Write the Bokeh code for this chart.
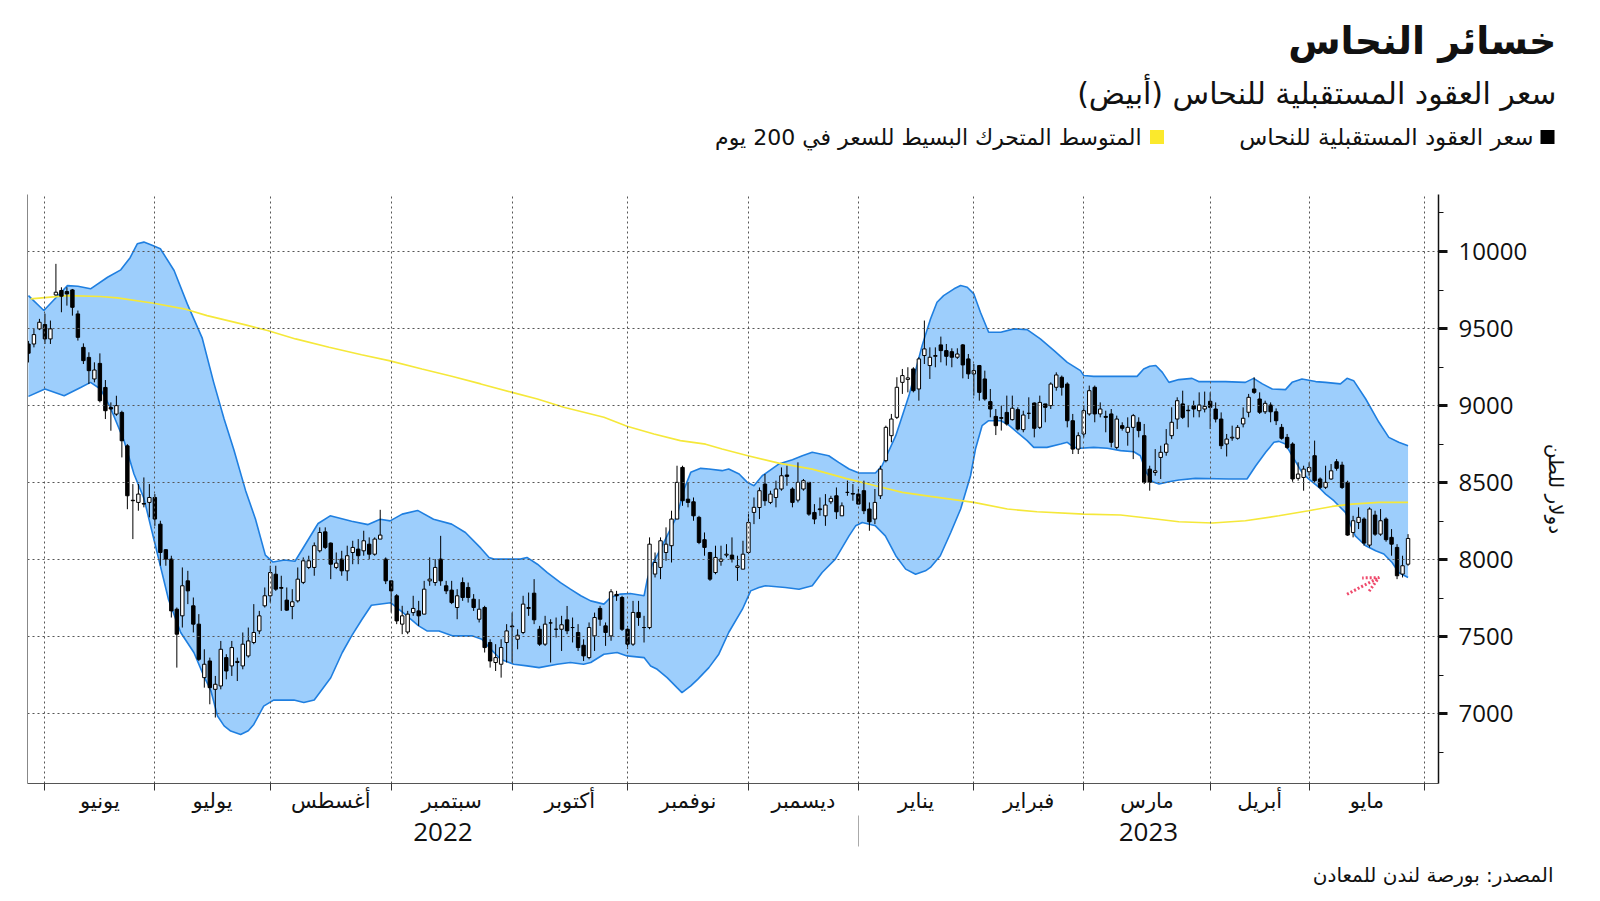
from bokeh.plotting import figure
from bokeh.models import (Range1d, LinearAxis, FixedTicker, Arrow, OpenHead,
                          ColumnDataSource)
from bokeh.layouts import column
from bokeh.embed import file_html
from bokeh.resources import INLINE
from bokeh.core.properties import value

# ---------------- data ----------------
opens = [9400, 9400, 9498, 9526, 9433, 9718, 9747, 9740, 9751, 9595,
         9378, 9313, 9173, 9274, 9118, 8988, 8945, 8956, 8739, 8386,
         8372, 8365, 8372, 8404, 8231, 8065, 8004, 7679, 7636, 7863,
         7701, 7582, 7235, 7343, 7159, 7181, 7365, 7311, 7333, 7311,
         7376, 7463, 7538, 7701, 7766, 7906, 7820, 7738, 7697, 7733,
         7853, 7950, 7950, 8058, 8181, 8108, 7950, 8004, 7928, 8047,
         8069, 8058, 8101, 8036, 8134, 8004, 7863, 7766, 7582, 7531,
         7657, 7668, 7647, 7863, 7852, 8004, 7831, 7803, 7690, 7852,
         7820, 7744, 7614, 7690, 7463, 7333, 7322, 7463, 7570, 7484,
         7528, 7684, 7783, 7549, 7452, 7590, 7549, 7549, 7610, 7560,
         7528, 7445, 7365, 7506, 7684, 7571, 7506, 7775, 7755, 7549,
         7452, 7658, 7560, 7560, 7907, 7950, 8047, 8091, 8264, 8599,
         8393, 8376, 8275, 8130, 8047, 7917, 7990, 8030, 8030, 7950,
         7939, 8047, 8307, 8339, 8491, 8372, 8404, 8459, 8550, 8459,
         8387, 8459, 8502, 8307, 8330, 8285, 8376, 8415, 8285, 8437,
         8430, 8426, 8448, 8329, 8264, 8415, 8643, 8805, 8924, 9151,
         9170, 9238, 9108, 9325, 9260, 9320, 9394, 9357, 9350, 9314,
         9394, 9303, 9206, 9260, 9173, 9026, 8930, 8922, 8956, 8909,
         8974, 8844, 8950, 9017, 8859, 9011, 9000, 9119, 9184, 9140,
         8902, 8718, 8816, 8946, 9119, 8946, 8930, 8946, 8729, 8870,
         8827, 8859, 8892, 8805, 8588, 8566, 8664, 8697, 8805, 8913,
         9011, 8970, 9000, 8967, 8978, 9028, 8978, 8913, 8751, 8790,
         8788, 8881, 8957, 9108, 9043, 8960, 9004, 8960, 8859, 8794,
         8751, 8528, 8534, 8571, 8675, 8524, 8470, 8524, 8636, 8614,
         8502, 8177, 8242, 8264, 8095, 8290, 8166, 8264, 8145, 8080,
         7907, 7971]
highs = [9420, 9498, 9563, 9597, 9552, 9920, 9768, 9768, 9757, 9617,
         9404, 9346, 9281, 9339, 9166, 9021, 9064, 8967, 8750, 8491,
         8491, 8534, 8491, 8426, 8253, 8069, 8026, 7690, 7950, 7928,
         7755, 7647, 7419, 7365, 7246, 7473, 7387, 7473, 7365, 7528,
         7560, 7712, 7668, 7820, 7961, 7961, 7896, 7820, 7809, 7950,
         8015, 8026, 8112, 8210, 8210, 8112, 8047, 8058, 8091, 8123,
         8134, 8188, 8145, 8145, 8324, 8015, 7863, 7777, 7701, 7668,
         7766, 7733, 7863, 8015, 8004, 8155, 7863, 7863, 7809, 7885,
         7852, 7777, 7744, 7701, 7484, 7452, 7484, 7582, 7657, 7549,
         7766, 7787, 7874, 7571, 7636, 7614, 7625, 7636, 7700, 7625,
         7582, 7484, 7593, 7657, 7701, 7593, 7809, 7798, 7766, 7571,
         7733, 7733, 7636, 8145, 8047, 8145, 8210, 8318, 8610, 8610,
         8502, 8404, 8285, 8177, 8051, 8091, 8091, 8101, 8145, 8026,
         8123, 8296, 8404, 8469, 8556, 8448, 8513, 8599, 8610, 8470,
         8632, 8524, 8502, 8361, 8404, 8426, 8415, 8469, 8372, 8513,
         8491, 8459, 8513, 8372, 8459, 8610, 8870, 8946, 9184, 9238,
         9249, 9249, 9314, 9552, 9378, 9378, 9448, 9400, 9372, 9372,
         9400, 9335, 9270, 9264, 9227, 9108, 8978, 9000, 9065, 9065,
         8989, 8967, 9054, 9021, 9065, 9011, 9151, 9216, 9195, 9151,
         8946, 8827, 9000, 9130, 9130, 9021, 8967, 8978, 8935, 8892,
         8924, 8946, 8924, 8881, 8610, 8718, 8740, 8848, 8989, 9054,
         9097, 9000, 9032, 9086, 9091, 9086, 9021, 8956, 8816, 8870,
         8874, 8989, 9076, 9184, 9086, 9032, 9021, 8982, 8881, 8816,
         8762, 8632, 8610, 8632, 8773, 8534, 8610, 8621, 8653, 8636,
         8513, 8285, 8340, 8275, 8340, 8318, 8329, 8275, 8199, 8101,
         8026, 8166]
lows = [9280, 9378, 9490, 9400, 9400, 9714, 9606, 9649, 9584, 9422,
        9270, 9140, 9151, 9021, 8913, 8837, 8934, 8664, 8328, 8134,
        8318, 8340, 8275, 8220, 7961, 7961, 7625, 7300, 7560, 7712,
        7528, 7343, 7170, 7062, 6976, 7159, 7224, 7246, 7213, 7289,
        7365, 7452, 7517, 7690, 7722, 7798, 7668, 7668, 7614, 7722,
        7842, 7939, 7896, 8047, 8069, 7874, 7939, 7896, 7863, 7971,
        7971, 8026, 8004, 8026, 8134, 7842, 7657, 7582, 7517, 7517,
        7636, 7571, 7647, 7831, 7831, 7831, 7777, 7712, 7614, 7733,
        7722, 7668, 7593, 7398, 7300, 7278, 7235, 7333, 7333, 7419,
        7517, 7636, 7582, 7441, 7441, 7333, 7495, 7408, 7517, 7463,
        7408, 7343, 7354, 7408, 7571, 7441, 7474, 7733, 7538, 7420,
        7441, 7571, 7463, 7549, 7885, 7874, 7993, 7982, 8264, 8350,
        8340, 8253, 8101, 8026, 7863, 7906, 7961, 8015, 7982, 7863,
        7939, 8036, 8231, 8264, 8350, 8361, 8340, 8448, 8480, 8340,
        8372, 8448, 8285, 8231, 8285, 8220, 8361, 8264, 8285, 8415,
        8383, 8361, 8296, 8188, 8231, 8394, 8632, 8762, 8913, 9076,
        9086, 9086, 9032, 9270, 9173, 9249, 9281, 9260, 9249, 9303,
        9177, 9173, 9065, 9032, 9032, 8924, 8809, 8838, 8870, 8903,
        8838, 8827, 8913, 8794, 8848, 8892, 8978, 9097, 9065, 8859,
        8686, 8686, 8794, 8935, 8892, 8924, 8827, 8729, 8718, 8838,
        8740, 8653, 8794, 8491, 8448, 8545, 8524, 8675, 8783, 8848,
        8913, 8859, 8924, 8924, 8956, 8848, 8891, 8718, 8670, 8772,
        8779, 8859, 8924, 9076, 8946, 8946, 8892, 8874, 8779, 8718,
        8506, 8513, 8448, 8545, 8502, 8459, 8459, 8519, 8578, 8459,
        8155, 8145, 8199, 8091, 8080, 8155, 8155, 8117, 8026, 7874,
        7885, 7961]
closes = [9340, 9461, 9541, 9433, 9498, 9736, 9710, 9725, 9638, 9443,
          9292, 9227, 9231, 9032, 8967, 8978, 9000, 8772, 8415, 8383,
          8426, 8361, 8404, 8264, 8047, 8004, 7668, 7517, 7831, 7798,
          7582, 7354, 7322, 7170, 7192, 7419, 7278, 7430, 7340, 7452,
          7473, 7528, 7636, 7766, 7917, 7809, 7815, 7673, 7727, 7874,
          7993, 7993, 8091, 8177, 8080, 7971, 7978, 7928, 8026, 8080,
          8026, 8123, 8036, 8134, 8160, 7863, 7798, 7603, 7636, 7647,
          7684, 7636, 7809, 7874, 7950, 7863, 7798, 7722, 7766, 7755,
          7755, 7690, 7679, 7430, 7343, 7365, 7430, 7538, 7565, 7510,
          7712, 7690, 7610, 7452, 7582, 7590, 7549, 7578, 7539, 7560,
          7430, 7376, 7560, 7625, 7614, 7528, 7792, 7766, 7549, 7452,
          7658, 7625, 7560, 8101, 7982, 8123, 8101, 8264, 8502, 8383,
          8372, 8285, 8112, 8080, 7874, 8015, 8004, 8036, 8004, 7960,
          8036, 8242, 8340, 8448, 8383, 8426, 8459, 8545, 8541, 8372,
          8502, 8513, 8296, 8264, 8325, 8355, 8398, 8311, 8350, 8437,
          8426, 8361, 8318, 8246, 8372, 8588, 8859, 8913, 9119, 9195,
          9180, 9097, 9303, 9368, 9314, 9325, 9357, 9320, 9314, 9335,
          9264, 9206, 9227, 9086, 9043, 8978, 8870, 8918, 8881, 8983,
          8848, 8939, 8950, 8853, 9021, 8989, 9140, 9199, 9119, 8902,
          8718, 8805, 8967, 9097, 8946, 8978, 8924, 8762, 8913, 8853,
          8859, 8935, 8838, 8502, 8502, 8577, 8697, 8751, 8892, 9032,
          8924, 8967, 8978, 9004, 8995, 8989, 8913, 8740, 8783, 8795,
          8859, 8918, 9054, 9086, 8957, 9015, 8960, 8902, 8788, 8729,
          8524, 8556, 8588, 8599, 8513, 8470, 8502, 8577, 8593, 8469,
          8160, 8253, 8275, 8108, 8329, 8166, 8253, 8130, 8101, 7896,
          7961, 8138]

# Bollinger band edges (bar index, value)
upper_x = [0, 2.8, 5, 7.1, 9, 11.3, 14.4, 16.8, 18.5, 19.8, 21, 22.5, 24, 26.5, 28.9,
           31.6, 33.7, 35.6, 37.4, 39.5, 41.3, 43.1, 44.5, 46.6, 48.5, 52.7, 54.9, 58.8,
           61.8, 64, 65.8, 68, 70.8, 73.7, 77, 79.5, 82.3, 83.8, 84.7, 89.5, 90.7, 92.6,
           94.4, 96.8, 98.6, 100.5, 102.3, 104.7, 105.9, 107.7, 109.5, 112, 112.6, 113.5,
           115, 116.8, 118, 119.3, 120.5, 122.3, 123.8, 126.2, 127.4, 129.3, 130.8, 132,
           133.5, 136.5, 139, 140.8, 142.6, 145.6, 147.4, 149.3, 151.1, 154.1, 155.3,
           157.8, 160.2, 162.6, 164.1, 165.3, 166.5, 168.4, 169.6, 170.8, 172, 173.2,
           174.7, 176.9, 179.3, 181.7, 184.1, 186.6, 189, 191.4, 192, 193.8, 201.7,
           202.9, 204, 205.1, 206.3, 207.5, 209.3, 211.7, 212.9, 217.8, 221.4, 222.9,
           224.5, 226.3, 228.7, 229.9, 231.7, 234.2, 236, 238.7, 239.9, 241.1, 243.3,
           245.7, 247.5, 249.3, 251]
upper_v = [9714, 9617, 9700, 9779, 9775, 9758, 9833, 9881, 9960, 10050, 10061, 10040,
           10018, 9877, 9660, 9440, 9151, 8913, 8710, 8450, 8264, 8030, 7985, 7998, 7990,
           8235, 8285, 8250, 8228, 8263, 8252, 8296, 8320, 8263, 8231, 8177, 8075, 8015,
           8004, 8004, 8015, 7971, 7917, 7852, 7809, 7766, 7733, 7712, 7755, 7777, 7781,
           7766, 7874, 7971, 8069, 8199, 8285, 8459, 8567, 8593, 8589, 8578, 8589, 8556,
           8502, 8480, 8545, 8621, 8649, 8675, 8697, 8675, 8632, 8589, 8563, 8563, 8610,
           8805, 9065, 9390, 9560, 9671, 9714, 9758, 9779, 9768, 9725, 9606, 9476, 9476,
           9498, 9493, 9433, 9357, 9281, 9227, 9195, 9190, 9190, 9238, 9255, 9260, 9216,
           9151, 9169, 9177, 9156, 9156, 9151, 9177, 9141, 9108, 9104, 9151, 9173, 9156,
           9151, 9141, 9177, 9162, 9043, 8892, 8794, 8762, 8740]
lower_x = [0, 3, 6.5, 9.5, 11.3, 13.1, 14.9, 17.4, 19.2, 21, 22.5, 24, 25.5, 27.7, 30.1,
           31.9, 33.2, 34.4, 35.6, 36.8, 38.6, 40, 41, 42.8, 44.6, 48.3, 50.1, 52, 55,
           57.1, 58.8, 60.7, 62.4, 65.9, 68.7, 71, 72.5, 74.7, 77.1, 80.7, 82.5, 84.1,
           85.9, 88.3, 90.7, 92.9, 96.2, 98.6, 101, 102.3, 104.7, 107.1, 108.9, 112,
           113.2, 114.4, 116.2, 118, 118.9, 120.5, 121.8, 123.8, 125.6, 127.4, 129.9,
           131.4, 132.9, 134.1, 137.7, 140.2, 142.6, 144.4, 146.8, 149.3, 150.5, 151.7,
           154.1, 155.9, 157.8, 159.6, 161.4, 163.2, 164.1, 165.9, 167.8, 169.6, 171.4,
           172.3, 173.5, 174.7, 176.9, 178.1, 179.9, 181.7, 182.9, 185.3, 187.8, 189,
           190.2, 191.4, 193.8, 196.3, 198.7, 201.1, 202.3, 203.4, 204.5, 205.7, 207.5,
           209.3, 212.3, 218.4, 221.7, 223.3, 225.1, 226.6, 227.5, 228.7, 229.9, 231.7,
           232.9, 234.8, 236, 237.5, 239.6, 241.4, 243.3, 245.1, 246.6, 248.1, 249.3, 251]
lower_v = [9060, 9108, 9064, 9118, 9151, 9108, 8988, 8772, 8556, 8400, 8180, 7960, 7740,
           7528, 7398, 7246, 7150, 6986, 6922, 6888, 6866, 6890, 6931, 7050, 7089, 7090,
           7073, 7090, 7234, 7398, 7506, 7614, 7705, 7721, 7640, 7571, 7538, 7538, 7506,
           7506, 7484, 7420, 7354, 7322, 7311, 7300, 7322, 7333, 7322, 7333, 7387, 7398,
           7376, 7365, 7311, 7289, 7235, 7170, 7138, 7181, 7225, 7300, 7387, 7528, 7679,
           7798, 7820, 7831, 7820, 7809, 7831, 7917, 8004, 8155, 8220, 8242, 8220, 8155,
           8026, 7939, 7906, 7928, 7950, 8026, 8177, 8329, 8545, 8718, 8870, 8902, 8902,
           8881, 8827, 8773, 8729, 8729, 8751, 8762, 8729, 8723, 8729, 8723, 8708, 8701,
           8675, 8565, 8506, 8491, 8506, 8517, 8528, 8524, 8524, 8610, 8697, 8762, 8768,
           8751, 8675, 8567, 8524, 8469, 8426, 8383, 8307, 8155, 8091, 8058, 8037, 7982,
           7917, 7885]

# 200-day simple moving average (bar index, value)
sma_x = [0.4, 7.1, 13.1, 16.2, 22.8, 28.3, 32.5, 39.5, 43.5, 48.6, 54.7, 60.6, 65.6,
         71.6, 77, 82.3, 88, 92.6, 97.4, 104.7, 108.9, 113.8, 118.6, 123.2, 126.2, 130.9,
         136.5, 142.6, 148.7, 154.1, 159, 164.1, 172, 178.1, 183.5, 192, 198.7, 205.1,
         209.3, 215.4, 221.4, 227.5, 232.9, 237.2, 240.8, 245.7, 251]
sma_v = [9693, 9714, 9708, 9699, 9664, 9628, 9584, 9524, 9487, 9433, 9379, 9330, 9292,
         9238, 9190, 9141, 9086, 9043, 8989, 8924, 8866, 8816, 8773, 8750, 8718, 8675,
         8627, 8588, 8528, 8480, 8437, 8411, 8372, 8329, 8311, 8296, 8290, 8264, 8246,
         8238, 8253, 8285, 8318, 8346, 8361, 8372, 8372]

# axes
month_labels = ["يونيو", "يوليو", "أغسطس", "سبتمبر", "أكتوبر", "نوفمبر",
                "ديسمبر", "يناير", "فبراير", "مارس", "أبريل", "مايو"]
month_starts = [3, 23, 44, 66, 88, 109, 131, 151, 172, 192, 215, 233, 254]
year_labels = ["2022", "2023"]
year_break = 151
y_major = [7000, 7500, 8000, 8500, 9000, 9500, 10000]
y_minor = [6750, 7250, 7750, 8250, 8750, 9250, 9750, 10250]

# annotation arrow (bar index / price)
arrow_from = (239.9, 7776)
arrow_to = (245.7, 7884)

title_text = "خسائر النحاس"
subtitle_text = "سعر العقود المستقبلية للنحاس (أبيض)\u200f"
legend_1 = "سعر العقود المستقبلية للنحاس"
legend_2 = "المتوسط المتحرك البسيط للسعر في 200 يوم"
y_label = "دولار للطن"
source_text = "المصدر: بورصة لندن للمعادن"

# ---------------- styling ----------------
AR = "DejaVu Sans"
NUM = "Open Sans"
W = 1600
HEAD_H = 168
MAIN_H = 690
FOOT_H = 42
X0, X1 = -0.17, 256.54
Y0, Y1 = 6548, 10370
BAND_FILL = "#9dcefc"
BAND_LINE = "#1f7fe0"
SMA_COL = "#f5e83a"
GRID_COL = "#555555"
INK = "#111111"


def text_panel(height):
    f = figure(width=W, height=height, x_range=Range1d(0, W), y_range=Range1d(height, 0),
               x_axis_type=None, y_axis_type=None, output_backend="svg",
               toolbar_location=None, min_border=0)
    f.frame_align = False
    f.outline_line_color = None
    f.grid.visible = False
    return f


# ---------------- header ----------------
head = text_panel(HEAD_H)
head.text(x=[1556], y=[40], text=[title_text], text_align="right", text_baseline="middle",
          text_font=value(AR), text_font_size="38px", text_font_style="bold", text_color=INK)
head.text(x=[1556], y=[93], text=[subtitle_text], text_align="right", text_baseline="middle",
          text_font=value(AR), text_font_size="30px", text_color=INK)
head.scatter(x=[1547], y=[136.5], marker="square", size=14, fill_color="#000000", line_color=None)
head.text(x=[1533], y=[136.5], text=[legend_1], text_align="right", text_baseline="middle",
          text_font=value(AR), text_font_size="23px", text_color=INK)
head.scatter(x=[1156.5], y=[136.5], marker="square", size=14, fill_color="#fbe92c", line_color=None)
head.text(x=[1141], y=[136.5], text=[legend_2], text_align="right", text_baseline="middle",
          text_font=value(AR), text_font_size="22px", text_color=INK)

# ---------------- main chart ----------------
p = figure(width=W, height=MAIN_H, x_range=Range1d(X0, X1), y_range=Range1d(Y0, Y1),
           y_axis_location="right", output_backend="svg", toolbar_location=None,
           min_border_left=27, min_border_right=162, min_border_top=26, min_border_bottom=75)
p.frame_align = False
p.outline_line_color = None
p.background_fill_color = "white"

# band
band_x = upper_x + lower_x[::-1]
band_v = upper_v + lower_v[::-1]
p.patch(band_x, band_v, fill_color=BAND_FILL, line_color=None, level="underlay")
p.line(upper_x, upper_v, line_color=BAND_LINE, line_width=1.6)
p.line(lower_x, lower_v, line_color=BAND_LINE, line_width=1.6)

# SMA
p.line(sma_x, sma_v, line_color=SMA_COL, line_width=1.6)

# candles
idx = list(range(len(closes)))
src = ColumnDataSource(dict(
    x=idx, o=opens, h=highs, l=lows, c=closes,
    top=[max(a, b) for a, b in zip(opens, closes)],
    bottom=[min(a, b) for a, b in zip(opens, closes)],
    fill=["#ffffff" if c > o else "#000000" for o, c in zip(opens, closes)],
))
p.segment(x0="x", y0="l", x1="x", y1="h", source=src, line_color="#000000", line_width=1)
p.vbar(x="x", top="top", bottom="bottom", width=0.62, source=src,
       fill_color="fill", line_color="#000000", line_width=1)

# arrow annotation
red = "#ef4a6c"
p.add_layout(Arrow(end=OpenHead(size=15, line_color=red, line_width=3, line_dash="2 2"),
                   x_start=arrow_from[0], y_start=arrow_from[1],
                   x_end=arrow_to[0], y_end=arrow_to[1],
                   line_color=red, line_width=3, line_dash="2 2"))

# grid
p.xgrid.ticker = FixedTicker(ticks=month_starts)
p.ygrid.ticker = FixedTicker(ticks=y_major)
for g in (p.xgrid[0], p.ygrid[0]):
    g.grid_line_color = GRID_COL
    g.grid_line_dash = "2 3"
    g.grid_line_width = 1
    g.level = "glyph"

# y axis (right)
yr = p.right[0]
yr.ticker = FixedTicker(ticks=y_major, minor_ticks=y_minor)
yr.axis_line_color = INK
yr.axis_line_width = 1.5
yr.major_tick_in = 0
yr.major_tick_out = 9
yr.major_tick_line_width = 3
yr.major_tick_line_color = INK
yr.minor_tick_in = 0
yr.minor_tick_out = 5
yr.minor_tick_line_color = INK
yr.major_label_text_font = NUM
yr.major_label_text_font_size = "24px"
yr.major_label_text_color = INK
yr.major_label_standoff = 11
yr.axis_label = y_label
yr.axis_label_text_font = AR
yr.axis_label_text_font_style = "normal"
yr.axis_label_text_font_size = "20px"
yr.axis_label_text_color = INK
yr.axis_label_standoff = 14

# x axis (months)
month_mids = [(a + b) / 2 for a, b in zip(month_starts[:-1], month_starts[1:])]
xa = p.below[0]
xa.ticker = FixedTicker(ticks=month_mids, minor_ticks=month_starts)
xa.major_label_overrides = {m: lab for m, lab in zip(month_mids, month_labels)}
xa.major_tick_line_color = None
xa.major_tick_out = 0
xa.minor_tick_in = 0
xa.minor_tick_out = 7
xa.minor_tick_line_color = "#333333"
xa.axis_line_color = "#555555"
xa.major_label_text_font = AR
xa.major_label_text_font_size = "21px"
xa.major_label_text_color = INK
xa.major_label_standoff = -2

# year axis
year_centers = [(X0 + year_break) / 2, (year_break + X1) / 2]
ya2 = LinearAxis(ticker=FixedTicker(ticks=year_centers, minor_ticks=[year_break]))
ya2.major_label_overrides = {c: lab for c, lab in zip(year_centers, year_labels)}
ya2.axis_line_color = None
ya2.major_tick_line_color = None
ya2.major_tick_out = 0
ya2.minor_tick_in = 0
ya2.minor_tick_out = 31
ya2.minor_tick_line_color = "#aaaaaa"
ya2.major_label_text_font = NUM
ya2.major_label_text_font_size = "26px"
ya2.major_label_text_color = INK
ya2.major_label_standoff = -24
p.add_layout(ya2, "below")

# left frame line
la = LinearAxis(ticker=FixedTicker(ticks=[]))
la.axis_line_color = "#888888"
la.major_label_text_font_size = "0px"
la.major_tick_line_color = None
la.minor_tick_line_color = None
la.major_tick_out = 0
la.minor_tick_out = 0
la.major_label_standoff = 0
p.add_layout(la, "left")

# ---------------- footer ----------------
foot = text_panel(FOOT_H)
foot.text(x=[1553], y=[16], text=[source_text], text_align="right", text_baseline="middle",
          text_font=value(AR), text_font_size="20px", text_color=INK)

layout = column(head, p, foot, spacing=0)
open("out.html", "w").write(file_html(layout, INLINE))
